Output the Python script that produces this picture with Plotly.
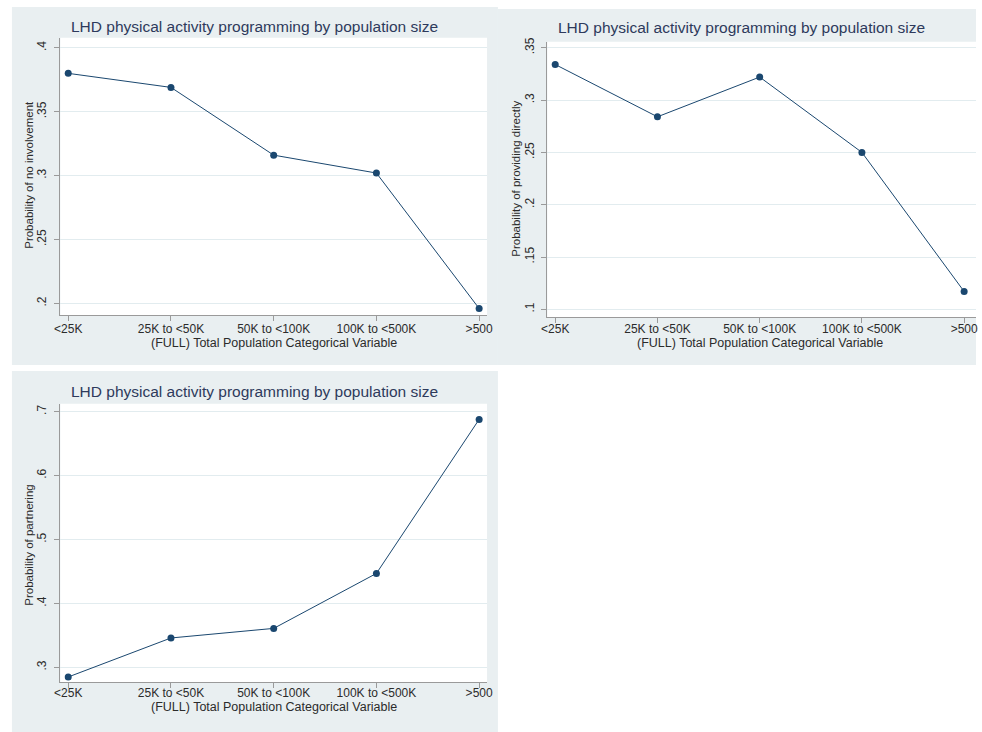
import plotly.graph_objects as go

# Population-size categories (x axis)
categories = ["<25K", "25K to <50K", "50K to <100K", "100K to <500K", ">500"]

# Predicted probabilities for each outcome
no_involvement = [0.380, 0.369, 0.316, 0.302, 0.196]
providing_directly = [0.334, 0.284, 0.322, 0.250, 0.117]
partnering = [0.285, 0.346, 0.361, 0.447, 0.688]

# Y tick values and labels (Stata style, no leading zero)
ticks_no_inv = [0.2, 0.25, 0.3, 0.35, 0.4]
labels_no_inv = [".2", ".25", ".3", ".35", ".4"]
ticks_direct = [0.1, 0.15, 0.2, 0.25, 0.3, 0.35]
labels_direct = [".1", ".15", ".2", ".25", ".3", ".35"]
ticks_partner = [0.3, 0.4, 0.5, 0.6, 0.7]
labels_partner = [".3", ".4", ".5", ".6", ".7"]

title_text = "LHD physical activity programming by population size"
x_title = "(FULL) Total Population Categorical Variable"
y_titles = ["Probability of no involvement",
            "Probability of providing directly",
            "Probability of partnering"]

W, H = 982, 732
NAVY = "#1a476f"
BG = "#e9eff1"
GRID = "#e2ecef"
AXIS = "#9a9a9a"
TXT = "#2b2b2b"
TITLE = "#2e3a5c"
FONT = "Liberation Sans, Arial, sans-serif"


def fx(p):
    return p / W


def fy(p):
    return 1 - p / H


# panel geometry in pixels: background box, plot box, axis ranges,
# label offsets and title spots
panels = [
    dict(bg=(6, 3, 498, 363), plot=(55, 34, 487, 313),
         xr=[-0.077, 4.077], yr=[0.1907, 0.4078],
         vals=no_involvement, tv=ticks_no_inv, tt=labels_no_inv,
         xoff=-3, yoff=4,
         title=(252, 23), ytitle=(23, 172), xtitle=(271, 341)),
    dict(bg=(498, 5, 982, 363), plot=(548, 38, 982, 315),
         xr=[-0.0773, 4.116], yr=[0.0924, 0.3557],
         vals=providing_directly, tv=ticks_direct, tt=labels_direct,
         xoff=-5, yoff=3,
         title=(745, 24), ytitle=(516, 176), xtitle=(763, 341)),
    dict(bg=(6, 369, 498, 732), plot=(55, 402, 487, 682),
         xr=[-0.077, 4.077], yr=[0.2767, 0.7124],
         vals=partnering, tv=ticks_partner, tt=labels_partner,
         xoff=-6, yoff=4,
         title=(252, 390), ytitle=(23, 544), xtitle=(271, 707)),
]

fig = go.Figure()
shapes = []
annotations = []

for i, p in enumerate(panels, start=1):
    sfx = "" if i == 1 else str(i)
    x0, y0, x1, y1 = p["bg"]
    shapes.append(dict(type="rect", xref="paper", yref="paper",
                       x0=fx(x0), x1=fx(x1), y0=fy(y1), y1=fy(y0),
                       fillcolor=BG, line=dict(width=0), layer="below"))
    px0, py0, px1, py1 = p["plot"]
    shapes.append(dict(type="rect", xref="paper", yref="paper",
                       x0=fx(px0), x1=fx(px1), y0=fy(py1), y1=fy(py0),
                       fillcolor="white", line=dict(width=0), layer="below"))

    fig.add_trace(go.Scatter(
        x=categories, y=p["vals"], mode="lines+markers",
        line=dict(color=NAVY, width=1),
        marker=dict(color=NAVY, size=7),
        xaxis="x" + sfx, yaxis="y" + sfx, showlegend=False,
        hoverinfo="x+y"))

    fig.update_layout(**{
        "xaxis" + sfx: dict(
            domain=[fx(px0), fx(px1)], anchor="y" + sfx,
            type="category", range=p["xr"],
            showgrid=False, zeroline=False,
            showline=True, linecolor=AXIS, linewidth=1,
            ticks="outside", ticklen=5, tickcolor=AXIS, tickwidth=1,
            ticklabelstandoff=p["xoff"],
            tickfont=dict(family=FONT, size=12, color=TXT)),
        "yaxis" + sfx: dict(
            domain=[fy(py1), fy(py0)], anchor="x" + sfx,
            range=p["yr"], tickvals=p["tv"], ticktext=p["tt"],
            tickangle=-90,
            showgrid=True, gridcolor=GRID, gridwidth=1, zeroline=False,
            showline=True, linecolor=AXIS, linewidth=1,
            ticks="outside", ticklen=5, tickcolor=AXIS, tickwidth=1,
            ticklabelstandoff=p["yoff"],
            tickfont=dict(family=FONT, size=12, color=TXT)),
    })

    tx, ty = p["title"]
    annotations.append(dict(text=title_text, xref="paper", yref="paper",
                            x=fx(tx), y=fy(ty), showarrow=False,
                            xanchor="center", yanchor="middle",
                            font=dict(family=FONT, size=15.5, color=TITLE)))
    ax, ay = p["ytitle"]
    annotations.append(dict(text=y_titles[i - 1], xref="paper", yref="paper",
                            x=fx(ax), y=fy(ay), showarrow=False, textangle=-90,
                            xanchor="center", yanchor="middle",
                            font=dict(family=FONT, size=11.5, color=TXT)))
    bx, by = p["xtitle"]
    annotations.append(dict(text=x_title, xref="paper", yref="paper",
                            x=fx(bx), y=fy(by), showarrow=False,
                            xanchor="center", yanchor="middle",
                            font=dict(family=FONT, size=12.5, color=TXT)))

fig.update_layout(
    width=W, height=H,
    margin=dict(l=0, r=0, t=0, b=0),
    paper_bgcolor="white", plot_bgcolor="rgba(0,0,0,0)",
    shapes=shapes, annotations=annotations,
    font=dict(family=FONT),
)

fig.write_html("out.html")
